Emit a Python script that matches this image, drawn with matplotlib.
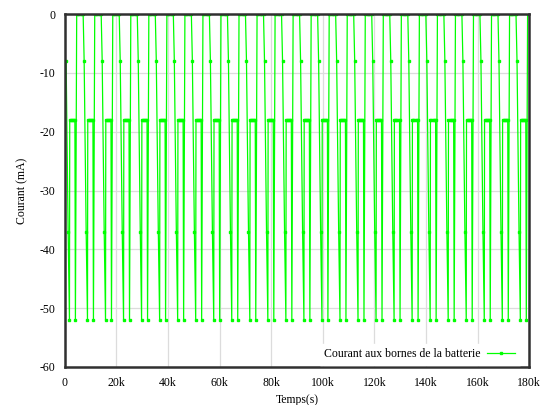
#----------------------------------------------------#
#   Courant aux bornes de la batterie
#----------------------------------------------------#
import numpy as np
import matplotlib
matplotlib.use('Agg')
import matplotlib.pyplot as plt

#-----------------------------------------------------------------#
#   Data
#   one cycle : time offsets (s) and current (mA)
cycle_dt = [0, 780, 1290, 1400, 1800, 2200, 2600, 3000, 3400, 3600,
            4100, 4600, 5100, 5600, 6100, 6600]
cycle_i = [-8, -37, -52, -18, -18, -18, -18, -18, -18, -52,
           0, 0, 0, 0, 0, 0]

#   start time of each cycle (s)
cycle_start = [466, 7460, 14454, 21448, 28442, 35436, 42430, 49424,
               56418, 63412, 70406, 77400, 84394, 91388, 98382, 105376,
               112370, 119364, 126358, 133352, 140346, 147340, 154334,
               161328, 168322, 175316]

x_ticks = [0, 20000, 40000, 60000, 80000, 100000, 120000, 140000, 160000, 180000]
x_labels = ['0', '20k', '40k', '60k', '80k', '100k', '120k', '140k', '160k', '180k']
y_ticks = [0, -10, -20, -30, -40, -50, -60]
#-----------------------------------------------------------------#

t = []
i = []
for s in cycle_start:
  for dt, c in zip(cycle_dt, cycle_i):
    t.append(s + dt)
    i.append(c)

plt.rcParams['font.family'] = ['Liberation Serif', 'DejaVu Serif']
plt.rcParams['font.size'] = 8.5
plt.rcParams['axes.unicode_minus'] = False

fig = plt.figure(figsize=(5.41, 4.05), dpi=100)
ax = fig.add_axes([0.120, 0.094, 0.858, 0.871])

ax.plot(t, i, '-s', c='#00ff00', lw=0.9, ms=2.0,
        label='Courant aux bornes de la batterie', clip_on=True)

ax.set_xlim(0, 180000)
ax.set_ylim(-60, 0)
ax.set_xticks(x_ticks)
ax.set_xticklabels(x_labels)
ax.set_yticks(y_ticks)
ax.tick_params(length=0, pad=7, colors='black')
ax.grid(True, color='#dcdcdc', lw=0.9)
ax.set_axisbelow(True)
for sp in ax.spines.values():
  sp.set_linewidth(1.8)
  sp.set_color('#303030')

ax.set_xlabel('Temps(s)', labelpad=4)
ax.set_ylabel('Courant (mA)', labelpad=8)

leg = ax.legend(loc='lower right', bbox_to_anchor=(0.980, 0.005),
                frameon=True, fancybox=False,
                numpoints=1, handlelength=2.4, borderaxespad=0.0,
                handletextpad=0.5, markerfirst=False)
leg.get_frame().set_facecolor('white')
leg.get_frame().set_edgecolor('white')
leg.get_frame().set_alpha(1.0)

plt.savefig('out.png', dpi=100)
